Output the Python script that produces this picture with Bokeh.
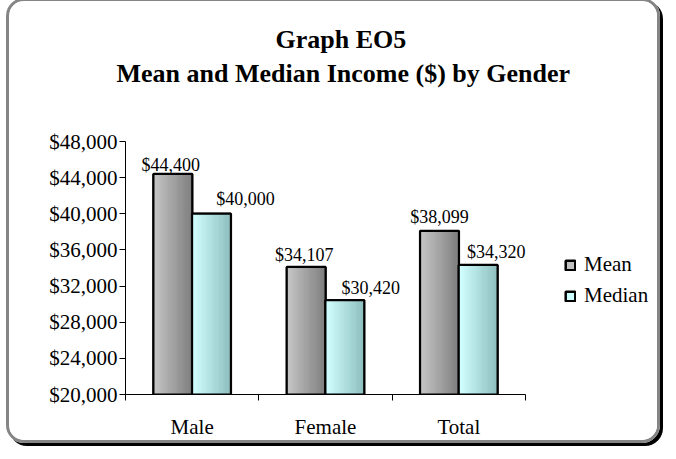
from bokeh.plotting import figure
from bokeh.models import (Range1d, FixedTicker, NumeralTickFormatter, Legend,
                          LegendItem, Title)
from bokeh.core.properties import value
from bokeh.embed import file_html
from bokeh.resources import INLINE

# ---- data ----
categories = ["Male", "Female", "Total"]
series_names = ["Mean", "Median"]
mean_income = [44400, 34107, 38099]
median_income = [40000, 30420, 34320]
y_ticks = [20000, 24000, 28000, 32000, 36000, 40000, 44000, 48000]
title_line1 = "Graph EO5"
title_line2 = "Mean and Median Income ($) by Gender"

# ---- style / layout ----
FONT = "Liberation Serif"
BAR_W = 0.29
OFFSETS = [-0.145, 0.145]
LABEL_DX = [[-2, -2, 0], [34, 26, 18]]
LABEL_GAP = [[4, 7, 9], [10, 7, 8]]
GRADIENTS = [((0xc6, 0xc6, 0xc6), (0x80, 0x80, 0x80)),
             ((0xd2, 0xff, 0xff), (0x90, 0xc0, 0xc0))]
LEGEND_FILL = ["#c0c0c0", "#ccffff"]
N_STRIPS = 16

W, H, BORDER = 654, 445, 3
LEFT, BOTTOM, TOP = 116, 52, 89
AXIS_PX_X = 400.0      # pixel length of the category axis
AXIS_PX_Y = 253.0      # pixel length of the value axis
frame_w = W - LEFT
frame_h = H - BOTTOM - TOP
n = len(categories)
x_end = n * frame_w / AXIS_PX_X
y_end = y_ticks[0] + (y_ticks[-1] - y_ticks[0]) * frame_h / AXIS_PX_Y

p = figure(width=W, height=H, title=None,
           x_range=Range1d(0, x_end), y_range=Range1d(y_ticks[0], y_end),
           output_backend="svg", toolbar_location=None,
           min_border_left=LEFT, min_border_right=0,
           min_border_top=TOP, min_border_bottom=BOTTOM,
           outline_line_color=None, background_fill_color="white",
           border_fill_color="white")
p.margin = (-2, 0, 0, 6)
p.styles = {"border": "%dpx solid #858585" % BORDER, "border-radius": "18px",
            "box-shadow": "3px 3px 0px #000000", "overflow": "hidden"}
p.xgrid.visible = False
p.ygrid.visible = False

# x axis: category labels at centers, ticks at boundaries
centers = [i + 0.5 for i in range(n)]
p.xaxis.bounds = (0, n)
p.xaxis.ticker = FixedTicker(ticks=centers, minor_ticks=list(range(n + 1)))
p.xaxis.major_label_overrides = {c: name for c, name in zip(centers, categories)}
p.xaxis.major_tick_in = 0
p.xaxis.major_tick_out = 0
p.xaxis.minor_tick_in = 0
p.xaxis.minor_tick_out = 6
p.xaxis.minor_tick_line_color = "black"
p.xaxis.axis_line_color = "black"
p.xaxis.major_label_standoff = 14
p.xaxis.major_label_text_font = FONT
p.xaxis.major_label_text_font_size = "21px"
p.xaxis.major_label_text_color = "black"

p.yaxis.bounds = (y_ticks[0], y_ticks[-1])
p.yaxis.ticker = FixedTicker(ticks=y_ticks, minor_ticks=[])
p.yaxis.formatter = NumeralTickFormatter(format="$0,0")
p.yaxis.major_tick_in = 0
p.yaxis.major_tick_out = 6
p.yaxis.minor_tick_in = 0
p.yaxis.minor_tick_out = 0
p.yaxis.major_tick_line_color = "black"
p.yaxis.axis_line_color = "black"
p.yaxis.major_label_standoff = 2
p.yaxis.major_label_text_font = FONT
p.yaxis.major_label_text_font_size = "21px"
p.yaxis.major_label_text_color = "black"


def mix(c0, c1, t):
    return "#%02x%02x%02x" % tuple(int(round(a + (b - a) * t)) for a, b in zip(c0, c1))


items = []
for s, vals in enumerate([mean_income, median_income]):
    xs = [i + 0.5 + OFFSETS[s] for i in range(n)]
    base = p.vbar(x=xs, top=vals, bottom=y_ticks[0], width=BAR_W,
                  fill_color=LEGEND_FILL[s], line_color="black", line_width=2.5)
    sx, st, sc = [], [], []
    sw = BAR_W / N_STRIPS
    for x, v in zip(xs, vals):
        for k in range(N_STRIPS):
            sx.append(x - BAR_W / 2 + (k + 0.5) * sw)
            st.append(v)
            sc.append(mix(GRADIENTS[s][0], GRADIENTS[s][1], k / (N_STRIPS - 1)))
    p.vbar(x=sx, top=st, bottom=y_ticks[0], width=sw, fill_color=sc,
           line_color=sc, line_width=0.6)
    p.vbar(x=xs, top=vals, bottom=y_ticks[0], width=BAR_W,
           fill_color=None, line_color="black", line_width=2)
    p.text(x=xs, y=vals, text=["${:,}".format(v) for v in vals],
           x_offset=LABEL_DX[s], y_offset=[5 - g for g in LABEL_GAP[s]],
           text_align="center", text_baseline="bottom",
           text_font=value(FONT), text_font_size="18px", text_color="black")
    items.append(LegendItem(label=series_names[s], renderers=[base]))

legend = Legend(items=items, location=(439, 86), orientation="vertical",
                border_line_color=None, background_fill_alpha=0,
                label_text_font=FONT, label_text_font_size="21px",
                label_text_color="black",
                glyph_width=12, glyph_height=12, label_standoff=8,
                label_height=12, spacing=6, padding=0, margin=0)
p.add_layout(legend, "center")

t2 = Title(text=title_line2, align="left", offset=-9, standoff=6,
           text_font=FONT, text_font_size="26px", text_font_style="bold",
           text_color="black")
p.add_layout(t2, "above")
t1 = Title(text=title_line1, align="left", offset=150, standoff=0,
           text_font=FONT, text_font_size="26px", text_font_style="bold",
           text_color="black")
p.add_layout(t1, "above")

open("out.html", "w").write(file_html(p, INLINE))
